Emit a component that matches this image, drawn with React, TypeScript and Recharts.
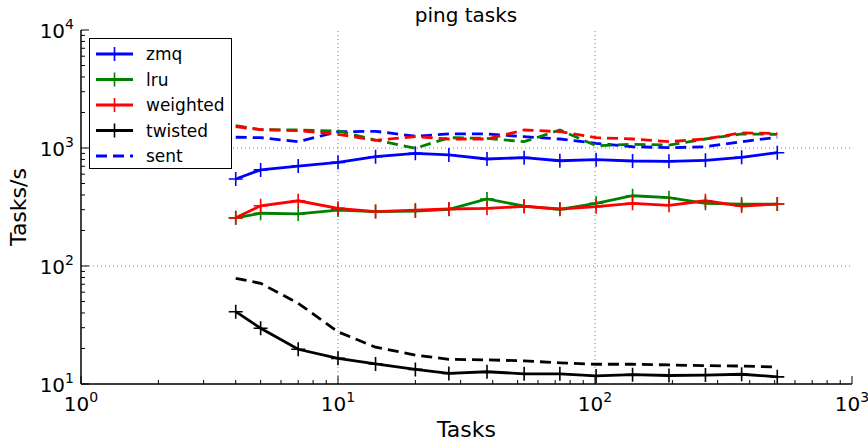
import { Legend, Line, LineChart, ReferenceLine, XAxis, YAxis } from 'recharts'

const tasks = [4, 5, 7, 10, 14, 20, 27, 38, 53, 73, 101, 140, 194, 269, 372, 512]

const zmq = [546, 652, 703, 756, 844, 901, 873, 807, 828, 780, 796, 776, 771, 787, 834, 912]
const lru = [256, 280, 276, 298, 289, 292, 302, 370, 322, 302, 340, 394, 379, 340, 335, 335]
const weighted = [256, 324, 357, 308, 289, 298, 304, 308, 320, 304, 318, 340, 327, 357, 322, 335]
const twisted = [41, 29.7, 19.7, 16.5, 14.8, 13.3, 12.3, 12.7, 12.2, 12.2, 11.7, 12.0, 11.8, 11.9, 12.1, 11.5]

const zmqSent = [1233, 1223, 1131, 1375, 1385, 1260, 1315, 1315, 1247, 1192, 1096, 1025, 1006, 1025, 1131, 1233]
const lruSent = [1545, 1430, 1421, 1394, 1169, 994, 1223, 1208, 1131, 1421, 1046, 1075, 1060, 1192, 1315, 1306]
const weightedSent = [1516, 1430, 1402, 1306, 1162, 1247, 1192, 1192, 1421, 1375, 1223, 1192, 1131, 1192, 1345, 1327]
const twistedSent = [78.7, 71.3, 48.3, 27.7, 20.5, 17.6, 16.2, 16.0, 15.7, 15.1, 14.7, 14.7, 14.5, 14.3, 14.2, 13.9]

const xTicks = [1, 2, 3, 4, 5, 6, 7, 8, 9, 10, 20, 30, 40, 50, 60, 70, 80, 90, 100, 200, 300, 400, 500, 600, 700, 800, 900, 1000]
const yTicks = [10, 20, 30, 40, 50, 60, 70, 80, 90, 100, 200, 300, 400, 500, 600, 700, 800, 900, 1000, 2000, 3000, 4000, 5000, 6000, 7000, 8000, 9000, 10000]
const xGrid = [10, 100]
const yGrid = [100, 1000]

const series = [
  { key: 'zmq', name: 'zmq', color: '#0000ff', values: zmq, dashed: false },
  { key: 'zmqSent', name: 'sent', color: '#0000ff', values: zmqSent, dashed: true },
  { key: 'lru', name: 'lru', color: '#008000', values: lru, dashed: false },
  { key: 'lruSent', name: '', color: '#008000', values: lruSent, dashed: true },
  { key: 'weighted', name: 'weighted', color: '#ff0000', values: weighted, dashed: false },
  { key: 'weightedSent', name: '', color: '#ff0000', values: weightedSent, dashed: true },
  { key: 'twisted', name: 'twisted', color: '#000000', values: twisted, dashed: false },
  { key: 'twistedSent', name: '', color: '#000000', values: twistedSent, dashed: true },
]

const legendOrder = ['zmq', 'lru', 'weighted', 'twisted', 'zmqSent']

const data = tasks.map((t, i) => {
  const row: Record<string, number> = { tasks: t }
  series.forEach(s => {
    row[s.key] = s.values[i]
  })
  return row
})

const font = 'DejaVu Sans, sans-serif'
const DASH = '11 6'

function AxisTick(props: any) {
  const { x, y, payload, side } = props
  const p = Math.log10(payload.value)
  const major = Math.abs(p - Math.round(p)) < 1e-6
  const len = major ? 8 : 4
  let line
  if (side === 'bottom') line = <line x1={x} x2={x} y1={y} y2={y - len} />
  else if (side === 'top') line = <line x1={x} x2={x} y1={y} y2={y + len} />
  else if (side === 'left') line = <line x1={x} x2={x + len} y1={y} y2={y} />
  else line = <line x1={x} x2={x - len} y1={y} y2={y} />
  let label = null
  if (major && side === 'bottom') {
    label = (
      <text x={x} y={y + 27} textAnchor="middle" fontSize={20} fontFamily={font} fill="#000" stroke="none">
        10<tspan dy={-9} fontSize={14}>{Math.round(p)}</tspan>
      </text>
    )
  } else if (major && side === 'left') {
    label = (
      <text x={x - 7} y={y + 8} textAnchor="end" fontSize={20} fontFamily={font} fill="#000" stroke="none">
        10<tspan dy={-9} fontSize={14}>{Math.round(p)}</tspan>
      </text>
    )
  }
  return (
    <g>
      <g stroke="#000" strokeWidth={1}>{line}</g>
      {label}
    </g>
  )
}

function Plus(props: any) {
  const { cx, cy, stroke, index, dataKey } = props
  if (cx == null || cy == null) return <g key={`${dataKey}-${index}`} />
  return (
    <path
      key={`${dataKey}-${index}`}
      d={`M${cx - 7},${cy}H${cx + 7}M${cx},${cy - 7}V${cy + 7}`}
      stroke={stroke}
      strokeWidth={1.6}
      fill="none"
    />
  )
}

function LegendBox() {
  const rows = legendOrder.map(k => series.find(s => s.key === k)!)
  return (
    <div style={{ border: '1.5px solid #000', background: '#fff', width: 141, height: 129, boxSizing: 'content-box' }}>
      <svg width={141} height={129}>
        {rows.map((s, i) => {
          const cy = 15 + i * 25.5
          return (
            <g key={s.key}>
              <line
                x1={6}
                x2={43}
                y1={cy}
                y2={cy}
                stroke={s.color}
                strokeWidth={2.8}
                strokeDasharray={s.dashed ? DASH : undefined}
              />
              {!s.dashed && (
                <path d={`M${24.5 - 7},${cy}H${24.5 + 7}M24.5,${cy - 7}V${cy + 7}`} stroke={s.color} strokeWidth={1.6} />
              )}
              <text x={56} y={cy + 6} fontSize={17} fontFamily={font} fill="#000">
                {s.name}
              </text>
            </g>
          )
        })}
      </svg>
    </div>
  )
}

export default function App() {
  return (
    <div style={{ position: 'absolute', left: 0, top: 0, width: 868, height: 442, background: '#fff' }}>
      <LineChart width={868} height={442} data={data} margin={{ top: 30, right: 16, bottom: 0, left: 0 }}>
        <XAxis
          dataKey="tasks"
          type="number"
          scale="log"
          domain={[1, 1000]}
          allowDataOverflow
          ticks={xTicks}
          interval={0}
          tickSize={0}
          tickMargin={0}
          tickLine={false}
          height={58}
          axisLine={{ stroke: '#000', strokeWidth: 1.5 }}
          tick={(p: any) => <AxisTick {...p} side="bottom" />}
          label={{ value: 'Tasks', position: 'insideBottom', offset: 5, fontSize: 22, fill: '#000', fontFamily: font }}
        />
        <XAxis
          xAxisId="top"
          orientation="top"
          dataKey="tasks"
          type="number"
          scale="log"
          domain={[1, 1000]}
          allowDataOverflow
          ticks={xTicks}
          interval={0}
          tickSize={0}
          tickMargin={0}
          tickLine={false}
          height={0}
          axisLine={{ stroke: '#000', strokeWidth: 1.5 }}
          tick={(p: any) => <AxisTick {...p} side="top" />}
        />
        <YAxis
          type="number"
          scale="log"
          domain={[10, 10000]}
          allowDataOverflow
          ticks={yTicks}
          interval={0}
          tickSize={0}
          tickMargin={0}
          tickLine={false}
          width={81}
          axisLine={{ stroke: '#000', strokeWidth: 1.5 }}
          tick={(p: any) => <AxisTick {...p} side="left" />}
        />
        <YAxis
          yAxisId="right"
          orientation="right"
          type="number"
          scale="log"
          domain={[10, 10000]}
          allowDataOverflow
          ticks={yTicks}
          interval={0}
          tickSize={0}
          tickMargin={0}
          tickLine={false}
          width={0}
          axisLine={{ stroke: '#000', strokeWidth: 1.5 }}
          tick={(p: any) => <AxisTick {...p} side="right" />}
        />
        {xGrid.map(v => (
          <ReferenceLine key={`x${v}`} x={v} stroke="#808080" strokeDasharray="1 3" strokeWidth={1} />
        ))}
        {yGrid.map(v => (
          <ReferenceLine key={`y${v}`} y={v} stroke="#808080" strokeDasharray="1 3" strokeWidth={1} />
        ))}
        {series.map(s => (
          <Line
            key={s.key}
            dataKey={s.key}
            name={s.name}
            type="linear"
            stroke={s.color}
            strokeWidth={2.8}
            strokeDasharray={s.dashed ? DASH : undefined}
            dot={s.dashed ? false : (p: any) => <Plus {...p} stroke={s.color} />}
            activeDot={false}
            isAnimationActive={false}
          />
        ))}
        <Legend
          layout="vertical"
          align="center"
          verticalAlign="middle"
          wrapperStyle={{ left: 89, top: 38, width: 144, height: 132 }}
          content={() => <LegendBox />}
        />
        <text x={466} y={22} textAnchor="middle" fontSize={20} fontFamily={font} fill="#000">
          ping tasks
        </text>
        <text
          x={20}
          y={207}
          textAnchor="middle"
          fontSize={22}
          fontFamily={font}
          fill="#000"
          transform="rotate(-90 20 207)"
          dominantBaseline="middle"
        >
          Tasks/s
        </text>
      </LineChart>
    </div>
  )
}
